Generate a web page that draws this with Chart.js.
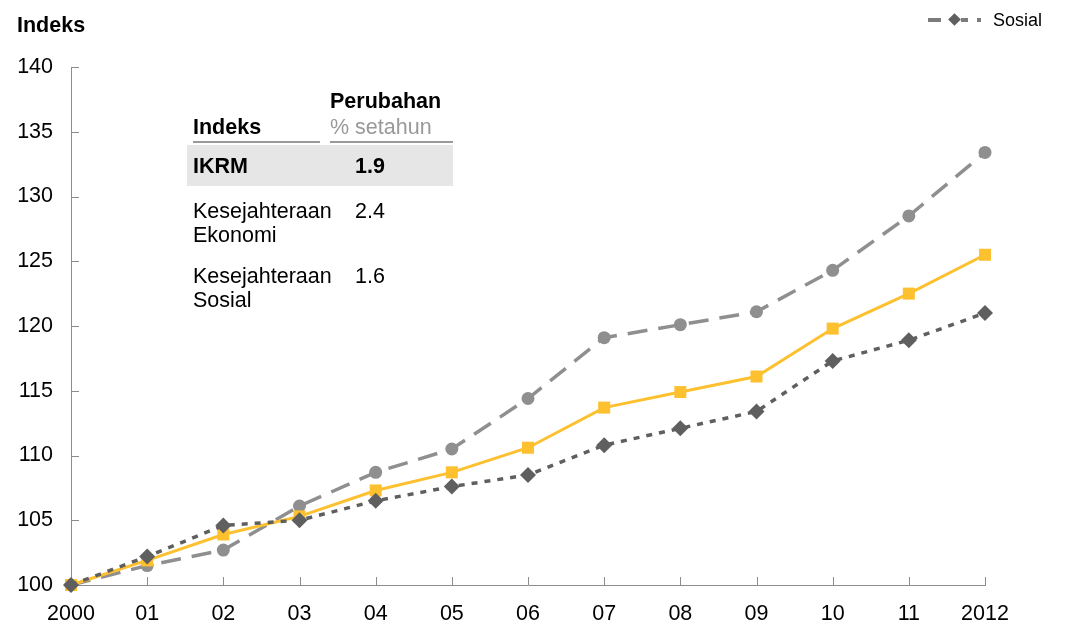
<!DOCTYPE html>
<html>
<head>
<meta charset="utf-8">
<script src="https://cdn.jsdelivr.net/npm/chart.js"></script>
<style>
  body { margin: 0; background: #fff; font-family: "Liberation Sans", Arial, sans-serif; color: #000; }
  #wrap { position: relative; width: 1067px; height: 630px; }
  #wrap canvas { position: absolute; left: 0; top: 0; }
  .t { position: absolute; font-size: 21.5px; line-height: 24px; white-space: nowrap; }
  .b { font-weight: bold; }
  .rule { position: absolute; height: 1.5px; background: #9a9a9a; }
  .leg span { position: absolute; }
</style>
</head>
<body>
<div id="wrap">
  <canvas id="chart" width="1067" height="630"></canvas>

  <div class="t b" style="left:17px; top:13px;">Indeks</div>

  <!-- legend: only the Sosial series is keyed -->
  <div class="leg">
    <span style="left:928px; top:18px; width:13px; height:3.5px; background:#7c7c7c;"></span>
    <span style="left:950px; top:15px; width:9px; height:9px; background:#5f5f5f; transform:rotate(45deg);"></span>
    <span style="left:961px; top:18px; width:7px; height:3.5px; background:#7c7c7c;"></span>
    <span style="left:977px; top:18px; width:3.5px; height:3.5px; background:#7c7c7c;"></span>
  </div>
  <div class="t" style="left:993px; top:9px; font-size:18px; line-height:22px;">Sosial</div>

  <!-- summary table -->
  <div style="position:absolute; left:187px; top:145px; width:266px; height:41px; background:#e6e6e6;"></div>
  <div class="t b" style="left:330px; top:89px;">Perubahan</div>
  <div class="t b" style="left:193px; top:115px;">Indeks</div>
  <div class="t" style="left:330px; top:115px; color:#999;">% setahun</div>
  <div class="rule" style="left:193px; top:141px; width:127px;"></div>
  <div class="rule" style="left:330px; top:141px; width:123px;"></div>
  <div class="t b" style="left:193px; top:154px;">IKRM</div>
  <div class="t b" style="left:355px; top:154px;">1.9</div>
  <div class="t" style="left:193px; top:199px;">Kesejahteraan<br>Ekonomi</div>
  <div class="t" style="left:355px; top:199px;">2.4</div>
  <div class="t" style="left:193px; top:264px;">Kesejahteraan<br>Sosial</div>
  <div class="t" style="left:355px; top:264px;">1.6</div>
</div>

<script>
var years = ['2000', '01', '02', '03', '04', '05', '06', '07', '08', '09', '10', '11', '2012'];
var ekonomi = [100, 101.5, 102.7, 106.1, 108.7, 110.5, 114.4, 119.1, 120.1, 121.1, 124.3, 128.5, 133.4];
var ikrm    = [100, 101.9, 103.9, 105.3, 107.3, 108.7, 110.6, 113.7, 114.9, 116.1, 119.8, 122.5, 125.5];
var sosial  = [100, 102.2, 104.6, 105.0, 106.5, 107.6, 108.5, 110.8, 112.1, 113.4, 117.3, 118.9, 121.0];

var axisColor = '#8c8c8c';

// tick marks pointing into the plot area
var innerTicks = {
    id: 'innerTicks',
    beforeDatasetsDraw: function(chart) {
        var ctx = chart.ctx;
        var xs = chart.scales.x, ys = chart.scales.y;
        ctx.save();
        ctx.strokeStyle = axisColor;
        ctx.lineWidth = 1;
        ctx.beginPath();
        ys.ticks.forEach(function(t) {
            var y = Math.round(ys.getPixelForValue(t.value)) + 0.5;
            ctx.moveTo(xs.left, y);
            ctx.lineTo(xs.left + 8, y);
        });
        years.forEach(function(l, i) {
            var x = Math.round(xs.getPixelForValue(i)) + 0.5;
            ctx.moveTo(x, ys.bottom);
            ctx.lineTo(x, ys.bottom - 8);
        });
        ctx.stroke();
        ctx.restore();
    }
};

var config = {
    type: 'line',
    data: {
        labels: years,
        datasets: [{
            label: 'Sosial',
            data: sosial,
            borderColor: '#5f5f5f',
            backgroundColor: '#5f5f5f',
            borderWidth: 3.5,
            borderDash: [6, 7],
            pointStyle: 'rectRot',
            pointRadius: 8,
            pointBorderWidth: 0,
            clip: false,
            order: 0
        }, {
            label: 'IKRM',
            data: ikrm,
            borderColor: '#fdc02f',
            backgroundColor: '#fdc02f',
            borderWidth: 3,
            pointStyle: 'rect',
            pointRadius: 8.5,
            pointBorderWidth: 0,
            clip: false,
            order: 1
        }, {
            label: 'Ekonomi',
            data: ekonomi,
            borderColor: '#8f8f8f',
            backgroundColor: '#8f8f8f',
            borderWidth: 3.5,
            borderDash: [20, 11],
            pointStyle: 'circle',
            pointRadius: 6.5,
            pointBorderWidth: 0,
            clip: false,
            order: 2
        }]
    },
    options: {
        responsive: false,
        animation: false,
        layout: { padding: { left: 0, right: 82, top: 67, bottom: 0 } },
        plugins: {
            legend: { display: false },
            tooltip: { enabled: false }
        },
        scales: {
            x: {
                offset: false,
                grid: { display: false, drawTicks: false },
                border: { display: true, color: axisColor, width: 1 },
                ticks: {
                    color: '#000',
                    padding: 16,
                    maxRotation: 0,
                    autoSkip: false,
                    font: { family: 'Liberation Sans', size: 21.5 }
                },
                afterFit: function(scale) { scale.height = 45; }
            },
            y: {
                min: 100,
                max: 140,
                grid: { display: false, drawTicks: false },
                border: { display: true, color: axisColor, width: 1 },
                ticks: {
                    stepSize: 5,
                    color: '#000',
                    padding: 18,
                    font: { family: 'Liberation Sans', size: 21.5 }
                },
                afterFit: function(scale) { scale.width = 71; }
            }
        }
    },
    plugins: [innerTicks]
};

var ctx = document.getElementById('chart');
window.myChart = new Chart(ctx, config);
</script>
</body>
</html>
